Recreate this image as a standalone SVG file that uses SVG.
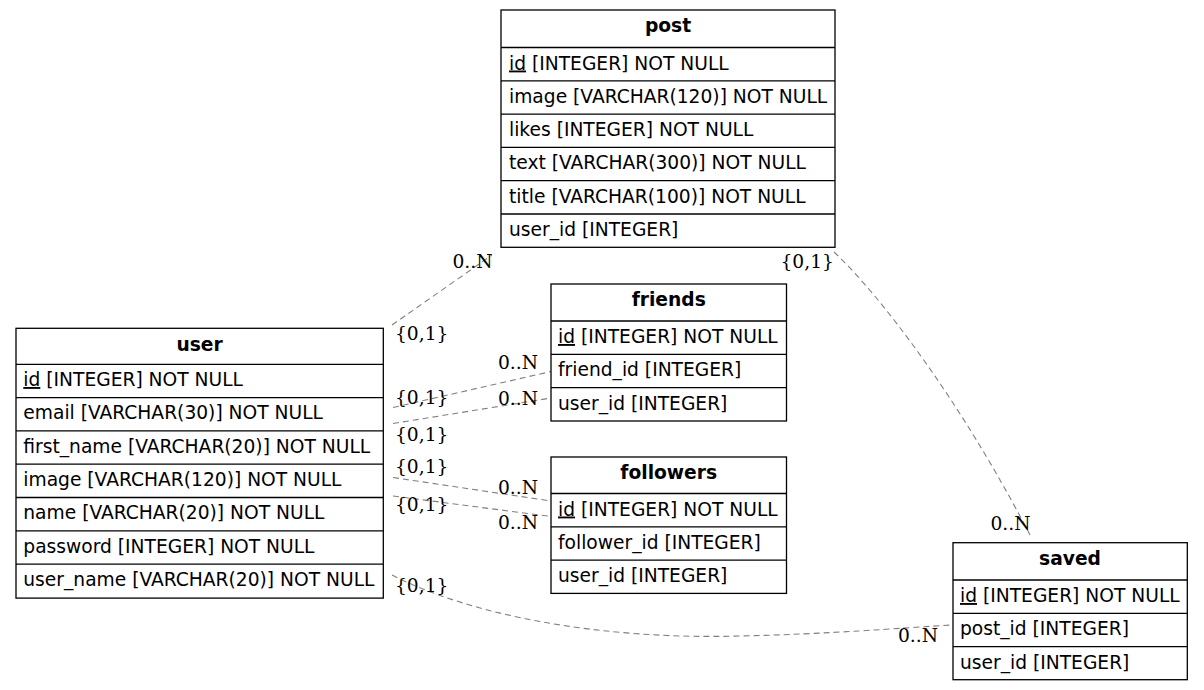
<svg xmlns="http://www.w3.org/2000/svg" width="1204" height="690" viewBox="0 0 1204 690">
<style>
.bg{fill:#fff}
.box{fill:#fff;stroke:#000;stroke-width:1.3}
.sep{stroke:#000;stroke-width:1.3}
.h{font-family:"DejaVu Sans","Liberation Sans",sans-serif;font-size:18.67px;font-weight:bold;text-anchor:middle;fill:#000}
.t{font-family:"DejaVu Sans","Liberation Sans",sans-serif;font-size:18.67px;fill:#000}
.u{text-decoration:underline}
.lbl{font-family:"DejaVu Serif","Liberation Serif",serif;font-size:18.67px;fill:#000}
.e{fill:none;stroke:#808080;stroke-width:1.1;stroke-dasharray:6,4}
</style>
<rect class="bg" x="0" y="0" width="1204" height="690"/>
<g id="connectors">
<path class="e" d="M392,325 L492,255"/>
<path class="e" d="M393,407.5 L551,371.5"/>
<path class="e" d="M393,423.5 L551,398"/>
<path class="e" d="M393,477.5 L551,501"/>
<path class="e" d="M393,496 L551,516.5"/>
<path class="e" d="M392,575 C470,615 600,640 740,636 C830,634 900,628 952,625"/>
<path class="e" d="M834,252 C880,295 960,400 1030,535"/>
<text class="lbl" x="452.5" y="268">0..N</text>
<text class="lbl" x="395" y="340">{0,1}</text>
<text class="lbl" x="498" y="369">0..N</text>
<text class="lbl" x="395" y="404">{0,1}</text>
<text class="lbl" x="498" y="405">0..N</text>
<text class="lbl" x="395" y="441">{0,1}</text>
<text class="lbl" x="395" y="473">{0,1}</text>
<text class="lbl" x="498" y="494">0..N</text>
<text class="lbl" x="395" y="510.5">{0,1}</text>
<text class="lbl" x="498" y="529">0..N</text>
<text class="lbl" x="395" y="592">{0,1}</text>
<text class="lbl" x="898" y="641.5">0..N</text>
<text class="lbl" x="780.5" y="268">{0,1}</text>
<text class="lbl" x="990.5" y="530">0..N</text>
</g>
<g id="post">
<rect class="box" x="501" y="10" width="334" height="237.3"/>
<line class="sep" x1="501" y1="47.5" x2="835" y2="47.5"/>
<line class="sep" x1="501" y1="80.8" x2="835" y2="80.8"/>
<line class="sep" x1="501" y1="114.1" x2="835" y2="114.1"/>
<line class="sep" x1="501" y1="147.4" x2="835" y2="147.4"/>
<line class="sep" x1="501" y1="180.7" x2="835" y2="180.7"/>
<line class="sep" x1="501" y1="214" x2="835" y2="214"/>
<text class="h" x="668" y="32">post</text>
<text class="t" x="509" y="69.5"><tspan class="u">id</tspan> [INTEGER] NOT NULL</text>
<text class="t" x="509" y="102.8">image [VARCHAR(120)] NOT NULL</text>
<text class="t" x="509" y="136.1">likes [INTEGER] NOT NULL</text>
<text class="t" x="509" y="169.4">text [VARCHAR(300)] NOT NULL</text>
<text class="t" x="509" y="202.7">title [VARCHAR(100)] NOT NULL</text>
<text class="t" x="509" y="236">user_id [INTEGER]</text>
</g>
<g id="friends">
<rect class="box" x="551" y="284" width="235.5" height="137"/>
<line class="sep" x1="551" y1="321" x2="786.5" y2="321"/>
<line class="sep" x1="551" y1="354.3" x2="786.5" y2="354.3"/>
<line class="sep" x1="551" y1="387.6" x2="786.5" y2="387.6"/>
<text class="h" x="668.7" y="306">friends</text>
<text class="t" x="558" y="343"><tspan class="u">id</tspan> [INTEGER] NOT NULL</text>
<text class="t" x="558" y="376.3">friend_id [INTEGER]</text>
<text class="t" x="558" y="409.6">user_id [INTEGER]</text>
</g>
<g id="followers">
<rect class="box" x="551" y="457" width="235.5" height="136.4"/>
<line class="sep" x1="551" y1="493.5" x2="786.5" y2="493.5"/>
<line class="sep" x1="551" y1="526.8" x2="786.5" y2="526.8"/>
<line class="sep" x1="551" y1="560.1" x2="786.5" y2="560.1"/>
<text class="h" x="668.7" y="479">followers</text>
<text class="t" x="558" y="515.5"><tspan class="u">id</tspan> [INTEGER] NOT NULL</text>
<text class="t" x="558" y="548.8">follower_id [INTEGER]</text>
<text class="t" x="558" y="582.1">user_id [INTEGER]</text>
</g>
<g id="user">
<rect class="box" x="16" y="328.3" width="367.3" height="269.8"/>
<line class="sep" x1="16" y1="364.3" x2="383.3" y2="364.3"/>
<line class="sep" x1="16" y1="397.6" x2="383.3" y2="397.6"/>
<line class="sep" x1="16" y1="430.9" x2="383.3" y2="430.9"/>
<line class="sep" x1="16" y1="464.2" x2="383.3" y2="464.2"/>
<line class="sep" x1="16" y1="497.5" x2="383.3" y2="497.5"/>
<line class="sep" x1="16" y1="530.8" x2="383.3" y2="530.8"/>
<line class="sep" x1="16" y1="564.1" x2="383.3" y2="564.1"/>
<text class="h" x="199.6" y="350.5">user</text>
<text class="t" x="23.3" y="386"><tspan class="u">id</tspan> [INTEGER] NOT NULL</text>
<text class="t" x="23.3" y="419.3">email [VARCHAR(30)] NOT NULL</text>
<text class="t" x="23.3" y="452.6">first_name [VARCHAR(20)] NOT NULL</text>
<text class="t" x="23.3" y="485.9">image [VARCHAR(120)] NOT NULL</text>
<text class="t" x="23.3" y="519.2">name [VARCHAR(20)] NOT NULL</text>
<text class="t" x="23.3" y="552.5">password [INTEGER] NOT NULL</text>
<text class="t" x="23.3" y="585.8">user_name [VARCHAR(20)] NOT NULL</text>
</g>
<g id="saved">
<rect class="box" x="953" y="542.7" width="234.3" height="137"/>
<line class="sep" x1="953" y1="580" x2="1187.3" y2="580"/>
<line class="sep" x1="953" y1="613.3" x2="1187.3" y2="613.3"/>
<line class="sep" x1="953" y1="646.6" x2="1187.3" y2="646.6"/>
<text class="h" x="1070" y="565">saved</text>
<text class="t" x="960" y="602"><tspan class="u">id</tspan> [INTEGER] NOT NULL</text>
<text class="t" x="960" y="635.3">post_id [INTEGER]</text>
<text class="t" x="960" y="668.6">user_id [INTEGER]</text>
</g>
</svg>
